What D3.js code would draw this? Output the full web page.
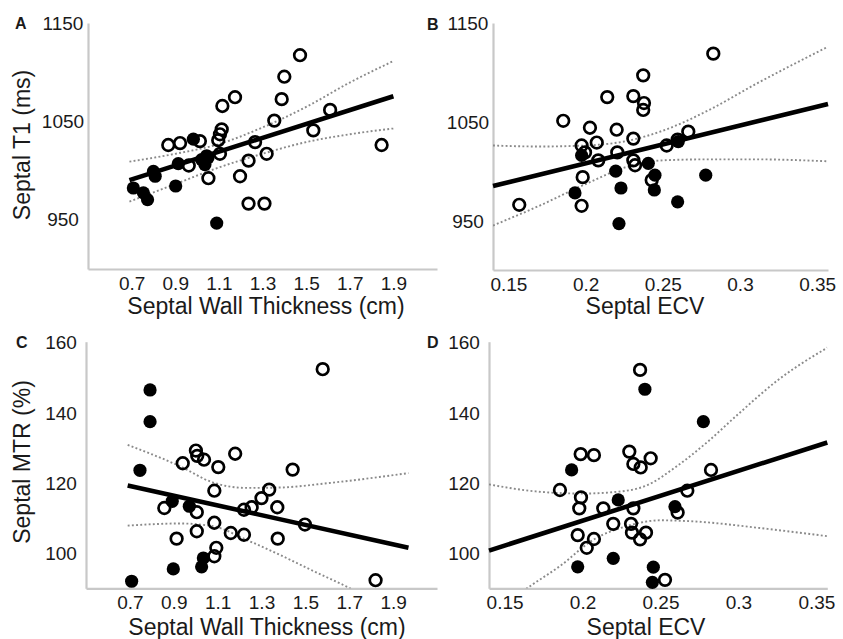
<!DOCTYPE html>
<html>
<head>
<meta charset="utf-8">
<script src="https://cdn.jsdelivr.net/npm/d3@7"></script>
<style>
  body { margin: 0; background: #fff; }
  text { font-family: "Liberation Sans", Arial, sans-serif; fill: #1a1a1a; }
</style>
</head>
<body>
<div id="chart"></div>
<script>
// ---- data ----
// panel A: septal wall thickness (cm) vs septal T1 (ms)
var openA = [[1.472,1117],[1.40,1095],[1.388,1072],[1.174,1074],[1.116,1065],[1.61,1061],[1.354,1050],
  [1.533,1040],[1.846,1025],[1.113,1041],[1.105,1036],[1.097,1030],[0.868,1025],[0.922,1027],[1.013,1029],
  [1.266,1028],[1.105,1016],[1.319,1016],[1.236,1009],[0.962,1004],[1.052,991],[1.197,993],[1.236,965],[1.309,965]];
var filledA = [[0.983,1031],[0.914,1006],[1.021,1010],[1.044,1014],[1.036,1005],[1.05,1012],[0.80,998],
  [0.808,993],[0.708,981],[0.754,976],[0.773,969],[0.902,983],[1.09,945]];
var fitA = [[0.69,989],[1.9,1075]];
var upperA = [[0.69,1008],[0.9,1016],[1.1,1026],[1.3,1043],[1.5,1064],[1.7,1089],[1.9,1111]];
var lowerA = [[0.69,967],[0.9,985],[1.1,1002],[1.3,1016],[1.5,1028],[1.7,1036],[1.9,1042]];

// panel B: septal ECV vs septal T1 (ms)
var openB = [[0.2827,1119],[0.2373,1097],[0.214,1075],[0.2309,1076],[0.2378,1069],[0.2373,1062],[0.1855,1051],
  [0.2028,1044],[0.2201,1042],[0.2309,1033],[0.2665,1040],[0.1974,1026],[0.2072,1029],[0.2525,1026],[0.2596,1032],
  [0.1996,1019],[0.2082,1011],[0.2205,1019],[0.2309,1011],[0.232,1006],[0.1981,994],[0.2428,991],[0.1974,965],[0.157,966]];
var filledB = [[0.1974,1016],[0.26,1030],[0.2406,1008],[0.2449,996],[0.2195,1000],[0.1931,978],[0.2229,983],
  [0.2445,981],[0.2778,996],[0.2596,969],[0.2216,947]];
var fitB = [[0.14,985],[0.357,1068]];
var upperB = [[0.14,1026],[0.17,1025],[0.2,1026],[0.228,1031],[0.25,1041],[0.28,1062],[0.31,1088],[0.357,1126]];
var lowerB = [[0.14,945],[0.17,965],[0.2,987],[0.228,1005],[0.25,1011],[0.28,1012],[0.31,1012],[0.357,1010]];

// panel C: septal wall thickness (cm) vs septal MTR (%)
var openC = [[1.579,152.2],[1.001,129.1],[1.007,127.6],[1.038,126.5],[0.941,125.5],[1.103,124.4],[1.18,128.2],
  [1.442,123.7],[1.085,117.7],[1.335,118],[1.30,115.6],[1.372,113],[1.255,113],[1.22,112.3],[0.857,112.8],
  [1.005,111.6],[1.085,108.6],[1.498,108.1],[1.005,106.2],[1.16,105.7],[1.22,105.2],[0.913,104.1],[1.374,104.1],
  [1.094,101.5],[1.085,99.1],[1.82,92.3]];
var filledC = [[0.792,146.3],[0.792,137.3],[0.746,123.5],[0.893,114.7],[0.971,113.3],[1.035,98.6],[1.027,96.1],
  [0.898,95.5],[0.708,92]];
var fitC = [[0.69,119.2],[1.97,101.5]];
var upperC = [[0.69,130.7],[0.93,124.6],[1.08,120],[1.23,118.5],[1.38,118.6],[1.61,119.9],[1.97,122.7]];
var lowerC = [[0.69,107.8],[0.93,108.4],[1.08,107.6],[1.23,103.8],[1.38,99.6],[1.54,94.8],[1.70,90.1],[1.97,80.3]];

// panel D: septal ECV vs septal MTR (%)
var openD = [[0.2369,152],[0.23,128.8],[0.2437,126.9],[0.2326,125.3],[0.2373,124.3],[0.1988,128.1],[0.2073,127.8],
  [0.2824,123.6],[0.1855,117.9],[0.199,115.8],[0.1979,112.7],[0.2133,112.7],[0.2326,112.7],[0.2672,117.7],
  [0.261,111.5],[0.2197,108.3],[0.2311,108.3],[0.2317,105.8],[0.2407,105.8],[0.2369,103.9],[0.1969,105.1],
  [0.2073,104],[0.2027,101.5],[0.2529,92.4]];
var filledD = [[0.24,146.5],[0.2775,137.3],[0.193,123.6],[0.2229,115.1],[0.2593,113.2],[0.2197,98.5],
  [0.1969,96.1],[0.2454,96],[0.2448,91.7]];
var fitD = [[0.14,100.7],[0.357,131.4]];
var upperD = [[0.14,119.5],[0.17,117.5],[0.2,116.9],[0.22,117.3],[0.24,119],[0.26,124.5],[0.28,131.5],[0.30,139.5],[0.325,149],[0.357,158.3]];
var lowerD = [[0.14,82],[0.1663,90.6],[0.1855,96.3],[0.207,103.8],[0.228,107.6],[0.25,109.3],[0.271,109],[0.314,107.1],[0.357,104.8]];

// tick labels
var thickTicks = [0.7, 0.9, 1.1, 1.3, 1.5, 1.7, 1.9];
var ecvTicks = [0.15, 0.2, 0.25, 0.3, 0.35];
var t1Ticks = [950, 1050, 1150];
var mtrTicks = [100, 120, 140, 160];

var svg = d3.select("#chart")
  .append("svg")
  .attr("width", 843)
  .attr("height", 639);

// plain number labels: 1150, 0.25, 0.3 ...
function plain(d) { return String(+d.toFixed(2)); }

// draw one scatter panel
function drawPanel(p) {
  var x = d3.scaleLinear().domain(p.xDomain).range(p.xRange);
  var y = d3.scaleLinear().domain(p.yDomain).range(p.yRange);
  var g = svg.append("g");

  // clip area for the bands
  g.append("clipPath").attr("id", "clip" + p.letter)
    .append("rect")
    .attr("x", p.xRange[0]).attr("y", p.yRange[1])
    .attr("width", p.xRange[1] - p.xRange[0])
    .attr("height", p.yRange[0] - p.yRange[1]);

  // axes (gray lines, no tick marks)
  var xAxis = g.append("g")
    .attr("transform", "translate(0," + p.yRange[0] + ")")
    .call(d3.axisBottom(x).tickValues(p.xTicks).tickSize(0).tickFormat(plain));
  xAxis.selectAll("text").attr("y", 21).attr("dy", 0).style("font-size", "19px");

  var yAxis = g.append("g")
    .attr("transform", "translate(" + p.xRange[0] + ",0)")
    .call(d3.axisLeft(y).tickValues(p.yTicks).tickSize(0).tickFormat(plain));
  yAxis.selectAll("text").attr("x", -25).attr("dy", "0.36em")
    .attr("text-anchor", "middle").style("font-size", "19px");

  g.selectAll(".domain").attr("stroke", "#c8c8c8").attr("stroke-width", 2.2);

  // confidence bands
  var band = d3.line()
    .x(function(d) { return x(d[0]); })
    .y(function(d) { return y(d[1]); })
    .curve(d3.curveMonotoneX);
  [p.upper, p.lower].forEach(function(b) {
    g.append("path")
      .datum(b)
      .attr("clip-path", "url(#clip" + p.letter + ")")
      .attr("d", band)
      .attr("fill", "none")
      .attr("stroke", "#8a8a8a")
      .attr("stroke-width", 1.9)
      .attr("stroke-dasharray", "1.9,2.3");
  });

  // points
  g.selectAll(".filled").data(p.filled).enter()
    .append("circle")
    .attr("cx", function(d) { return x(d[0]); })
    .attr("cy", function(d) { return y(d[1]); })
    .attr("r", 6.6)
    .attr("fill", "#000");

  g.selectAll(".open").data(p.open).enter()
    .append("circle")
    .attr("cx", function(d) { return x(d[0]); })
    .attr("cy", function(d) { return y(d[1]); })
    .attr("r", 5.8)
    .attr("fill", "none")
    .attr("stroke", "#000")
    .attr("stroke-width", 2.7);

  // fitted line
  g.append("path")
    .datum(p.fit)
    .attr("d", d3.line().x(function(d) { return x(d[0]); }).y(function(d) { return y(d[1]); }))
    .attr("stroke", "#000")
    .attr("stroke-width", 4.6)
    .attr("fill", "none");

  // panel letter
  g.append("text")
    .attr("x", p.letterPos[0]).attr("y", p.letterPos[1])
    .style("font-size", "16px").style("font-weight", "bold")
    .text(p.letter);

  // axis titles
  g.append("text")
    .attr("x", p.xTitlePos[0]).attr("y", p.xTitlePos[1])
    .attr("text-anchor", "middle")
    .style("font-size", "23px")
    .text(p.xTitle);

  if (p.yTitle) {
    g.append("text")
      .attr("transform", "translate(" + p.yTitlePos[0] + "," + p.yTitlePos[1] + ") rotate(-90)")
      .attr("text-anchor", "middle")
      .style("font-size", "23px")
      .text(p.yTitle);
  }
}

drawPanel({
  letter: "A", letterPos: [15, 29],
  xDomain: [0.5, 2.1], xRange: [88, 437],
  yDomain: [898, 1150], yRange: [269, 23],
  xTicks: thickTicks, yTicks: t1Ticks,
  open: openA, filled: filledA, fit: fitA, upper: upperA, lower: lowerA,
  xTitle: "Septal Wall Thickness (cm)", xTitlePos: [266, 314],
  yTitle: "Septal T1 (ms)", yTitlePos: [30, 145]
});

drawPanel({
  letter: "B", letterPos: [427, 30],
  xDomain: [0.14, 0.357], xRange: [493, 828],
  yDomain: [900, 1150], yRange: [270, 23],
  xTicks: ecvTicks, yTicks: t1Ticks,
  open: openB, filled: filledB, fit: fitB, upper: upperB, lower: lowerB,
  xTitle: "Septal ECV", xTitlePos: [645, 314]
});

drawPanel({
  letter: "C", letterPos: [16, 348],
  xDomain: [0.5, 2.1], xRange: [86, 437],
  yDomain: [90, 160], yRange: [588.3, 341.7],
  xTicks: thickTicks, yTicks: mtrTicks,
  open: openC, filled: filledC, fit: fitC, upper: upperC, lower: lowerC,
  xTitle: "Septal Wall Thickness (cm)", xTitlePos: [267, 634.5],
  yTitle: "Septal MTR (%)", yTitlePos: [30, 462]
});

drawPanel({
  letter: "D", letterPos: [427, 348],
  xDomain: [0.14, 0.357], xRange: [489, 827.3],
  yDomain: [90, 160], yRange: [588.3, 341.7],
  xTicks: ecvTicks, yTicks: mtrTicks,
  open: openD, filled: filledD, fit: fitD, upper: upperD, lower: lowerD,
  xTitle: "Septal ECV", xTitlePos: [646, 634.5]
});
</script>
</body>
</html>
